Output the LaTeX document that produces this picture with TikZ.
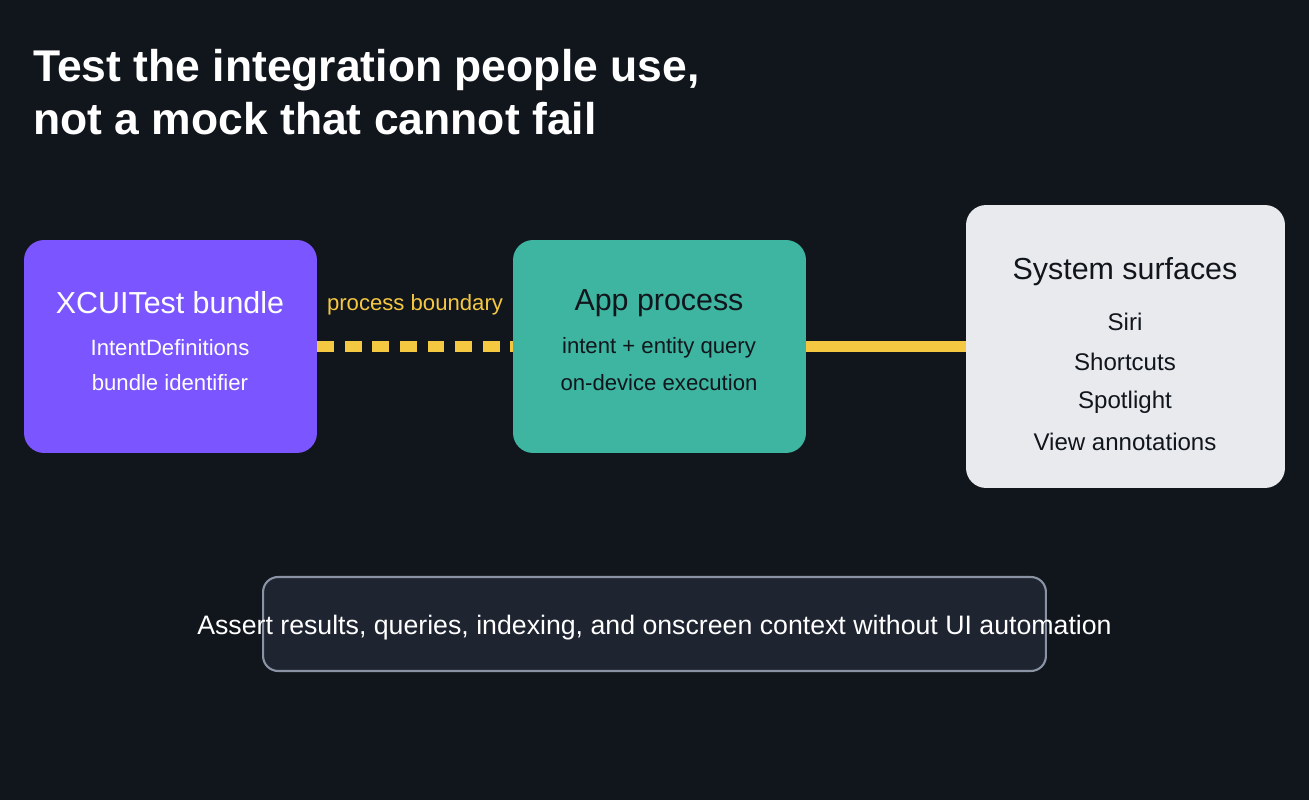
\documentclass[tikz,border=0pt]{standalone}
\usepackage{fontspec}
\setmainfont{Liberation Sans}
\usetikzlibrary{positioning}
\definecolor{bgdark}{HTML}{11151C}
\definecolor{violetbox}{HTML}{7B55FF}
\definecolor{tealbox}{HTML}{3DB5A0}
\definecolor{greybox}{HTML}{E8EAEE}
\definecolor{notefill}{HTML}{1E2430}
\definecolor{noteline}{HTML}{8A93A3}
\definecolor{wire}{HTML}{F5C842}

\begin{document}
\begin{tikzpicture}[
    x=0.02cm, y=-0.02cm,
    box/.style={rectangle, rounded corners=0.4cm, inner sep=0pt},
    head/.style={font=\fontsize{17.3}{20}\selectfont},
    line/.style={font=\fontsize{12.6}{15}\selectfont},
    link/.style={line width=5.7pt, wire}
]
    \fill[bgdark] (0,0) rectangle (1309,800);
    \node[anchor=west, text=white, align=left, font=\bfseries\fontsize{25.3}{30}\selectfont, inner sep=0pt] (title) at (33,92) {Test the integration people use,\\not a mock that cannot fail};

    % boxes
    \node[box, fill=violetbox, minimum width=5.86cm, minimum height=4.26cm] (xcui) at (170.5,346.5) {};
    \node[box, fill=tealbox, minimum width=5.86cm, minimum height=4.26cm] (app) at (659.5,346.5) {};
    \node[box, fill=greybox, minimum width=6.38cm, minimum height=5.66cm] (surf) at (1125.5,346.5) {};
    \node[box, fill=notefill, draw=noteline, line width=1.2pt, minimum width=15.66cm, minimum height=1.88cm, rounded corners=0.3cm] (note) at (654.5,624) {};

    % box texts
    \node[head, text=white] (xcuihead) at (170,303) {XCUITest bundle};
    \node[line, text=white] (xcuia) at (170,348) {IntentDefinitions};
    \node[line, text=white] (xcuib) at (170,383) {bundle identifier};
    \node[head, text=bgdark] (apphead) at (659,303) {App process};
    \node[line, text=bgdark] (appa) at (659,348) {intent + entity query};
    \node[line, text=bgdark] (appb) at (659,383) {on-device execution};
    \node[head, text=bgdark] (surfhead) at (1125,272) {System surfaces};
    \foreach \txt/\yy in {Siri/322, Shortcuts/362, Spotlight/402, View annotations/442}
        \node[line, text=bgdark, font=\fontsize{13.7}{16}\selectfont] at (1125,\yy) {\txt};
    \node[text=white, font=\fontsize{15.2}{18}\selectfont] (notetext) at (654.5,628) {Assert results, queries, indexing, and onscreen context without UI automation};

    % links
    \draw[link, dash pattern=on 9.5pt off 6.2pt] (xcui.east) -- (app.west);
    \draw[link] (app.east) -- (surf.west);
    \node[text=wire, font=\fontsize{12.6}{15}\selectfont] (boundary) at (415,305) {process boundary};
\end{tikzpicture}
\end{document}
